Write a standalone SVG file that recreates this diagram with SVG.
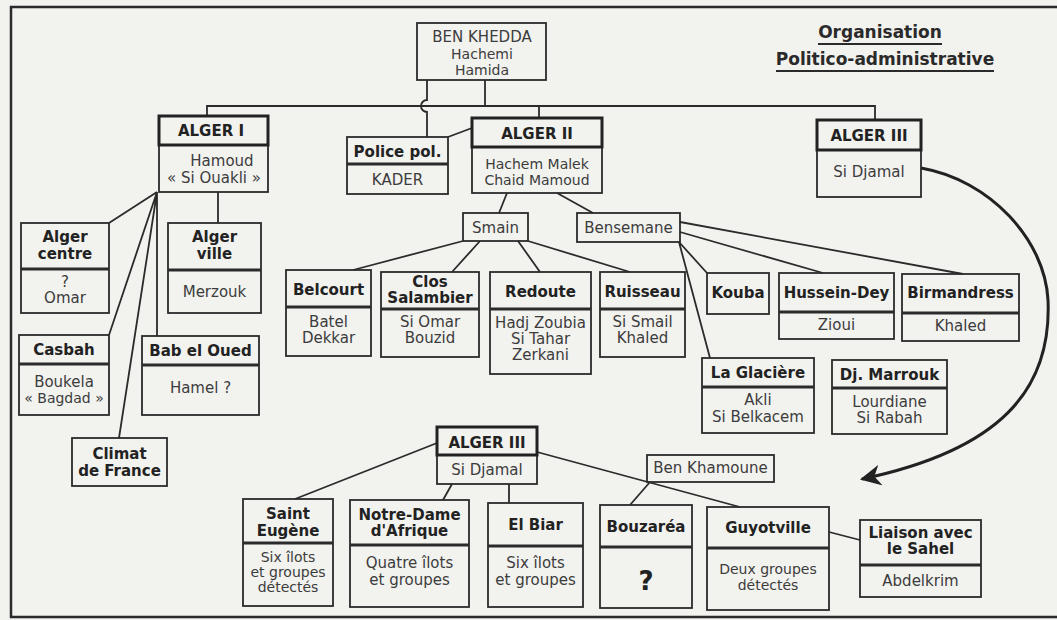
<svg xmlns="http://www.w3.org/2000/svg" width="1057" height="620" viewBox="0 0 1057 620">
<defs>
<style>
.bx{fill:none;stroke:#2b2b2b;stroke-width:1.8}
.hb{fill:none;stroke:#222;stroke-width:3}
.dv{stroke:#2b2b2b;stroke-width:3}
.ln{fill:none;stroke:#2b2b2b;stroke-width:1.8}
.h{font-family:"DejaVu Sans",sans-serif;font-weight:bold;font-size:15px;fill:#222;text-anchor:middle}
.b{font-family:"DejaVu Sans",sans-serif;font-size:15px;fill:#3c3c3c;text-anchor:middle}
.s{font-size:14px}
.t{font-family:"DejaVu Sans",sans-serif;font-weight:bold;font-size:17px;fill:#2a2a2a;text-anchor:middle}
</style>
<marker id="ah" viewBox="0 0 10 10" refX="9" refY="5" markerWidth="7" markerHeight="7" markerUnits="strokeWidth" orient="auto">
<path d="M0 0 L10 5 L0 10 L3 5 Z" fill="#222"/>
</marker>
</defs>
<rect x="0" y="0" width="1057" height="620" fill="#f2f2ef"/>
<path d="M1060 7 H11 V617 H1060" fill="none" stroke="#2b2b2b" stroke-width="2.5"/>

<g id="title">
<text class="t" x="880" y="38">Organisation</text>
<line x1="818" y1="44" x2="942" y2="44" stroke="#2a2a2a" stroke-width="2"/>
<text class="t" x="885" y="65">Politico-administrative</text>
<line x1="776" y1="71" x2="994" y2="71" stroke="#2a2a2a" stroke-width="2"/>
</g>

<g id="connectors">
<path class="ln" d="M207 116 V106 H875 V120"/>
<path class="ln" d="M485 80 V106"/>
<path class="ln" d="M539 106 V118"/>
<path class="ln" d="M427 80 V100 A6 6 0 0 0 427 112 V137"/>
<path class="ln" d="M448 137 L472 128"/>
<path class="ln" d="M157 192 L109 223 M157 192 L109 335 M157 192 L119 438 M157 192 L157 336 M218 192 V223"/>
<path class="ln" d="M507 193 L499 213 M557 193 L593 213"/>
<path class="ln" d="M463 241 L353 270 M480 241 L452 272 M518 241 L540 272 M528 241 L630 272"/>
<path class="ln" d="M680 222 L963 274 M680 232 L823 273 M679 242 L707 273 M679 242 L710 358"/>
<path class="ln" d="M437 443 L295 499 M452 484 L443 500 M509 484 V503 M537 452 L740 507 M650 482 L630 505 M829 532 L860 540"/>
<path d="M921 168 C990 180 1045 240 1048 300 C1052 390 1000 450 862 479" fill="none" stroke="#222" stroke-width="3" marker-end="url(#ah)"/>
</g>

<g id="ben-khedda">
<rect class="bx" x="417" y="23" width="129" height="57"/>
<text class="b" x="482" y="42">BEN KHEDDA</text>
<text class="b s" x="482" y="59">Hachemi</text>
<text class="b s" x="482" y="75">Hamida</text>
</g>

<g id="alger-1">
<rect class="bx" x="159" y="145" width="109" height="47"/>
<rect class="hb" x="159" y="116" width="109" height="29"/>
<text class="h" x="211" y="136">ALGER I</text>
<text class="b" x="222" y="166">Hamoud</text>
<text class="b" x="214" y="183">« Si Ouakli »</text>
</g>

<g id="police-pol">
<rect class="bx" x="347" y="137" width="101" height="57"/>
<line class="dv" x1="347" y1="164" x2="448" y2="164"/>
<text class="h" x="397.5" y="157">Police pol.</text>
<text class="b" x="397.5" y="185">KADER</text>
</g>

<g id="alger-2">
<rect class="bx" x="472" y="147" width="130" height="46"/>
<rect class="hb" x="472" y="118" width="130" height="29"/>
<text class="h" x="537" y="139">ALGER  II</text>
<text class="b s" x="537" y="169">Hachem Malek</text>
<text class="b s" x="537" y="185">Chaid Mamoud</text>
</g>

<g id="alger-3-top">
<rect class="bx" x="817" y="150" width="104" height="47"/>
<rect class="hb" x="817" y="120" width="104" height="30"/>
<text class="h" x="869" y="141">ALGER III</text>
<text class="b" x="869" y="177">Si Djamal</text>
</g>

<g id="alger-centre">
<rect class="bx" x="21" y="223" width="88" height="90"/>
<line class="dv" x1="21" y1="269" x2="109" y2="269"/>
<text class="h" x="65" y="242">Alger</text>
<text class="h" x="65" y="259">centre</text>
<text class="b" x="65" y="287">?</text>
<text class="b" x="65" y="303">Omar</text>
</g>

<g id="alger-ville">
<rect class="bx" x="168" y="223" width="93" height="90"/>
<line class="dv" x1="168" y1="270" x2="261" y2="270"/>
<text class="h" x="214.5" y="242">Alger</text>
<text class="h" x="214.5" y="259">ville</text>
<text class="b" x="214.5" y="297">Merzouk</text>
</g>

<g id="casbah">
<rect class="bx" x="19" y="335" width="90" height="80"/>
<line class="dv" x1="19" y1="364" x2="109" y2="364"/>
<text class="h" x="64" y="355">Casbah</text>
<text class="b" x="64" y="387">Boukela</text>
<text class="b s" x="64" y="403">« Bagdad »</text>
</g>

<g id="bab-el-oued">
<rect class="bx" x="142" y="336" width="117" height="79"/>
<line class="dv" x1="142" y1="365" x2="259" y2="365"/>
<text class="h" x="200.5" y="356">Bab el Oued</text>
<text class="b" x="200.5" y="393">Hamel ?</text>
</g>

<g id="climat-de-france">
<rect class="bx" x="72" y="438" width="95" height="48"/>
<text class="h" x="119.5" y="459">Climat</text>
<text class="h" x="119.5" y="476">de France</text>
</g>

<g id="smain">
<rect class="bx" x="463" y="213" width="65" height="28"/>
<text class="b" x="495.5" y="233">Smain</text>
</g>

<g id="bensemane">
<rect class="bx" x="577" y="213" width="103" height="29"/>
<text class="b" x="628.5" y="233">Bensemane</text>
</g>

<g id="belcourt">
<rect class="bx" x="286" y="270" width="85" height="86"/>
<line class="dv" x1="286" y1="307" x2="371" y2="307"/>
<text class="h" x="328.5" y="295">Belcourt</text>
<text class="b" x="328.5" y="327">Batel</text>
<text class="b" x="328.5" y="343">Dekkar</text>
</g>

<g id="clos-salambier">
<rect class="bx" x="381" y="272" width="98" height="85"/>
<line class="dv" x1="381" y1="309" x2="479" y2="309"/>
<text class="h" x="430" y="287">Clos</text>
<text class="h" x="430" y="303">Salambier</text>
<text class="b" x="430" y="327">Si Omar</text>
<text class="b" x="430" y="343">Bouzid</text>
</g>

<g id="redoute">
<rect class="bx" x="490" y="272" width="101" height="102"/>
<line class="dv" x1="490" y1="309" x2="591" y2="309"/>
<text class="h" x="540.5" y="297">Redoute</text>
<text class="b" x="540.5" y="328">Hadj Zoubia</text>
<text class="b" x="540.5" y="344">Si Tahar</text>
<text class="b" x="540.5" y="360">Zerkani</text>
</g>

<g id="ruisseau">
<rect class="bx" x="600" y="272" width="85" height="85"/>
<line class="dv" x1="600" y1="309" x2="685" y2="309"/>
<text class="h" x="642.5" y="297">Ruisseau</text>
<text class="b" x="642.5" y="327">Si Smail</text>
<text class="b" x="642.5" y="343">Khaled</text>
</g>

<g id="kouba">
<rect class="bx" x="707" y="273" width="62" height="41"/>
<text class="h" x="738" y="298">Kouba</text>
</g>

<g id="hussein-dey">
<rect class="bx" x="779" y="273" width="115" height="66"/>
<line class="dv" x1="779" y1="312" x2="894" y2="312"/>
<text class="h" x="836.5" y="298">Hussein-Dey</text>
<text class="b" x="836.5" y="330">Zioui</text>
</g>

<g id="birmandress">
<rect class="bx" x="902" y="274" width="117" height="67"/>
<line class="dv" x1="902" y1="313" x2="1019" y2="313"/>
<text class="h" x="960.5" y="298">Birmandress</text>
<text class="b" x="960.5" y="331">Khaled</text>
</g>

<g id="la-glaciere">
<rect class="bx" x="702" y="358" width="112" height="75"/>
<line class="dv" x1="702" y1="387" x2="814" y2="387"/>
<text class="h" x="758" y="378">La Glacière</text>
<text class="b" x="758" y="405">Akli</text>
<text class="b" x="758" y="422">Si Belkacem</text>
</g>

<g id="dj-marrouk">
<rect class="bx" x="832" y="360" width="115" height="74"/>
<line class="dv" x1="832" y1="388" x2="947" y2="388"/>
<text class="h" x="889.5" y="380">Dj. Marrouk</text>
<text class="b" x="889.5" y="407">Lourdiane</text>
<text class="b" x="889.5" y="423">Si Rabah</text>
</g>

<g id="alger-3-bottom">
<rect class="bx" x="437" y="455" width="100" height="29"/>
<rect class="hb" x="437" y="427" width="100" height="28"/>
<text class="h" x="487" y="448">ALGER III</text>
<text class="b" x="487" y="475">Si Djamal</text>
</g>

<g id="ben-khamoune">
<rect class="bx" x="647" y="455" width="127" height="27"/>
<text class="b" x="710.5" y="473">Ben Khamoune</text>
</g>

<g id="saint-eugene">
<rect class="bx" x="243" y="499" width="90" height="107"/>
<line class="dv" x1="243" y1="543" x2="333" y2="543"/>
<text class="h" x="288" y="519">Saint</text>
<text class="h" x="288" y="536">Eugène</text>
<text class="b s" x="288" y="562">Six îlots</text>
<text class="b s" x="288" y="577">et groupes</text>
<text class="b s" x="288" y="592">détectés</text>
</g>

<g id="notre-dame-d-afrique">
<rect class="bx" x="350" y="500" width="119" height="107"/>
<line class="dv" x1="350" y1="545" x2="469" y2="545"/>
<text class="h" x="409.5" y="520">Notre-Dame</text>
<text class="h" x="409.5" y="536">d'Afrique</text>
<text class="b" x="409.5" y="568">Quatre îlots</text>
<text class="b" x="409.5" y="585">et groupes</text>
</g>

<g id="el-biar">
<rect class="bx" x="488" y="503" width="95" height="104"/>
<line class="dv" x1="488" y1="546" x2="583" y2="546"/>
<text class="h" x="535.5" y="530">El Biar</text>
<text class="b" x="535.5" y="568">Six îlots</text>
<text class="b" x="535.5" y="585">et groupes</text>
</g>

<g id="bouzarea">
<rect class="bx" x="600" y="505" width="92" height="103"/>
<line class="dv" x1="600" y1="547" x2="692" y2="547"/>
<text class="h" x="646" y="532">Bouzaréa</text>
<text class="h" x="646" y="590" style="font-size:26px">?</text>
</g>

<g id="guyotville">
<rect class="bx" x="707" y="507" width="122" height="103"/>
<line class="dv" x1="707" y1="548" x2="829" y2="548"/>
<text class="h" x="768" y="533">Guyotville</text>
<text class="b s" x="768" y="574">Deux groupes</text>
<text class="b s" x="768" y="590">détectés</text>
</g>

<g id="liaison-sahel">
<rect class="bx" x="860" y="520" width="121" height="77"/>
<line class="dv" x1="860" y1="565" x2="981" y2="565"/>
<text class="h" x="920.5" y="538">Liaison avec</text>
<text class="h" x="920.5" y="554">le Sahel</text>
<text class="b" x="920.5" y="586">Abdelkrim</text>
</g>
</svg>
